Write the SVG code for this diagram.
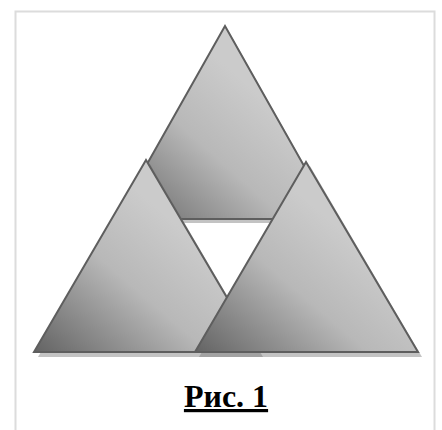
<svg xmlns="http://www.w3.org/2000/svg" width="442" height="430" viewBox="0 0 442 430">
<defs>
<linearGradient id="g" x1="0" y1="1" x2="0.65" y2="0.35">
<stop offset="0" stop-color="#636363"/>
<stop offset="0.6" stop-color="#b8b8b8"/>
<stop offset="1" stop-color="#cbcbcb"/>
</linearGradient>
<style>
.tri{fill:url(#g);stroke:#5e5e5e;stroke-width:2;stroke-linejoin:miter}
.sh{fill:#7a7a7a;opacity:0.45}
.cap{font-family:"Liberation Serif","Times New Roman",serif;font-weight:bold;font-size:32px;text-decoration:underline;fill:#000}
</style>
</defs>
<rect x="15.5" y="11.5" width="419" height="430" fill="#fff" stroke="#dcdcdc" stroke-width="2"/>
<g id="top">
<polygon class="sh" points="228,30 119,223 337,223"/>
<polygon class="tri" points="225,26 116,219 334,219"/>
</g>
<g id="left">
<polygon class="sh" points="150,164 38,357 263,357"/>
<polygon class="tri" points="146,160 34,352 259,352"/>
</g>
<g id="right">
<polygon class="sh" points="310,166 199,357 422,357"/>
<polygon class="tri" points="306,162 195,352 418,352"/>
</g>
<g id="connectors"/>
<text class="cap" x="226" y="407" text-anchor="middle">Рис. 1</text>
</svg>
